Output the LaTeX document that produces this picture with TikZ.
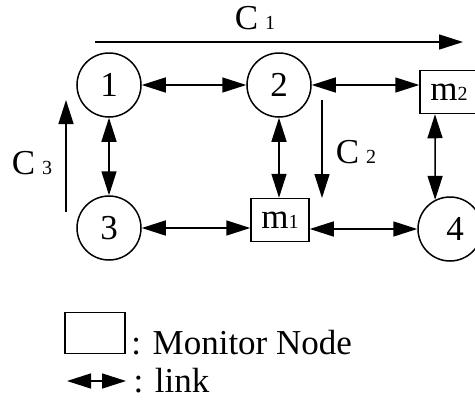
\documentclass[tikz,border=0pt]{standalone}
\usepackage{fontspec}
\setmainfont{Liberation Serif}
\usetikzlibrary{arrows.meta, positioning}

\newcommand{\sub}[2]{#1{\fontsize{20}{20}\selectfont #2}}

\begin{document}
\begin{tikzpicture}[x=1pt, y=-1pt,
    font=\fontsize{35}{40}\selectfont,
    host/.style={circle, draw, line width=1.5pt, minimum size=64pt, inner sep=0pt},
    monitor/.style={rectangle, draw, line width=1.5pt, minimum width=58pt, minimum height=43pt, inner sep=0pt},
    link/.style={{Triangle[length=24pt,width=15pt]}-{Triangle[length=24pt,width=15pt]}, line width=1.5pt},
    flow/.style={-{Triangle[length=24pt,width=15pt]}, line width=1.5pt}]
  \clip (0,0) rectangle (475,405);
  \useasboundingbox (0,0) rectangle (475,405);

  % hosts and monitors
  \node[host] (n1) at (109,85) {1};
  \node[host] (n2) at (279,85) {2};
  \node[host] (n3) at (109,228) {3};
  \node[host] (n4) at (450,229) {\hspace{10pt}4};
  \node[monitor] (m1) at (280,220) {\sub{m}{1}};
  \node[monitor] (m2) at (449,92) {\sub{m}{2}\hspace{6pt}};

  % links
  \draw[link] (n1) -- (n2);
  \draw[link] (n2) -- (n2 -| m2.west);
  \draw[link] (n1) -- (n3);
  \draw[link] (n2) -- (n2 |- m1.north);
  \draw[link] ([xshift=-14pt]m2.south) -- (n4.117);
  \draw[link] (n3) -- (n3 -| m1.west);
  \draw[link] (m1.east |- n4) -- (n4);

  % cycles
  \coordinate (c1s) at (95,42);
  \coordinate (c1e) at (463,42);
  \draw[flow] (c1s) -- (c1e);
  \node (c1) at (255,18) {\sub{C\hspace{7pt}}{1}};
  \coordinate (c2s) at (322,100);
  \coordinate (c2e) at (322,198);
  \draw[flow] (c2s) -- (c2e);
  \node (c2) at (356,152) {\sub{C\hspace{7pt}}{2}};
  \coordinate (c3s) at (66,212);
  \coordinate (c3e) at (66,100);
  \draw[flow] (c3s) -- (c3e);
  \node (c3) at (32,163) {\sub{C\hspace{7pt}}{3}};

  % legend
  \node[monitor, minimum width=60pt, minimum height=41pt] (lgbox) at (95,333) {};
  \node[right=2pt of lgbox.south east, anchor=base west] (lgtxt) {: Monitor Node};
  \coordinate (lga) at (67,381);
  \coordinate (lgb) at (126,381);
  \draw[link] (lga) -- (lgb);
  \node[right=4pt of lgb] (lgtxt2) {: link};
\end{tikzpicture}
\end{document}
